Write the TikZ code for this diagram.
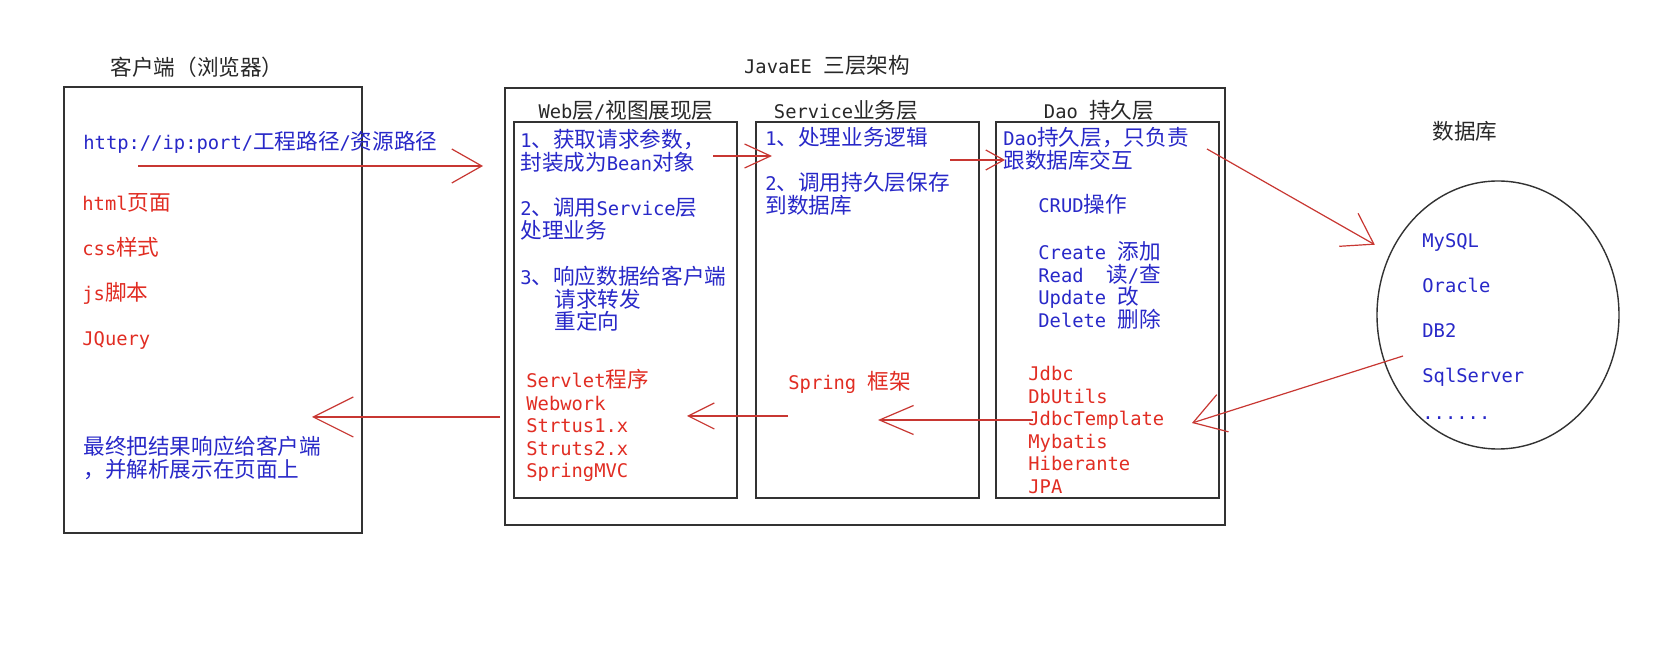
\documentclass[tikz,border=0pt]{standalone}
\usepackage{fontspec}
\setmainfont{DejaVu Sans Mono}
\newfontfamily\latinfont{DejaVu Sans Mono}
\newfontfamily\cjkfont{Noto Sans CJK SC}[Scale=1.15]

% switch to the CJK font for Chinese characters
\newXeTeXintercharclass\cjkclass
\newcount\charcode
\def\setclassrange#1#2#3{\charcode=#1\relax
  \loop \XeTeXcharclass\charcode=#3\relax
  \ifnum\charcode<#2\relax \advance\charcode by 1 \repeat}
\setclassrange{"0020}{"007E}{0}
\setclassrange{"3000}{"303F}{\cjkclass}
\setclassrange{"4E00}{"9FFF}{\cjkclass}
\setclassrange{"FF00}{"FFEF}{\cjkclass}
\XeTeXinterchartokenstate=1
\XeTeXinterchartoks 0 \cjkclass = {\cjkfont}
\XeTeXinterchartoks 4095 \cjkclass = {\cjkfont}
\XeTeXinterchartoks \cjkclass 0 = {\latinfont}
\XeTeXinterchartoks \cjkclass 4095 = {\latinfont}

\usepackage{tikz}
\usetikzlibrary{positioning, arrows.meta, shapes.geometric}

\definecolor{textblue}{RGB}{40,40,200}
\definecolor{textred}{RGB}{225,45,35}
\definecolor{arrowred}{RGB}{200,55,50}
\definecolor{framegray}{RGB}{50,50,50}
\definecolor{titlegray}{RGB}{40,40,40}

% text nodes sit on the baseline of their last line
\tikzset{
  frame/.style={draw=framegray, line width=1pt, inner sep=0pt, outer sep=0pt},
  title/.style={text=titlegray, inner sep=0pt, font=\fontsize{9.4pt}{11.25pt}\selectfont},
  txt/.style={inner sep=0pt, anchor=base west, align=left, font=\fontsize{9.4pt}{11.25pt}\selectfont},
  widetxt/.style={txt, font=\fontsize{9.4pt}{22.5pt}\selectfont},
  bluetxt/.style={txt, text=textblue},
  redtxt/.style={txt, text=textred},
  flow/.style 2 args={draw=arrowred, line width=0.6pt, -{Straight Barb[length=#1, width=#2]}},
}

\begin{document}
\begin{tikzpicture}[x=0.5pt, y=-0.5pt]
    \fill[white] (0,0) rectangle (1677,651);
    \useasboundingbox (0,0) rectangle (1677,651);

    % Boxes
    \node[frame, minimum width=149pt, minimum height=223pt] (client) at (213,310) {};
    \node[frame, minimum width=360pt, minimum height=218.5pt] (javaee) at (865,306.5) {};
    \node[frame, minimum width=111.5pt, minimum height=188pt] (web) at (625.5,310) {};
    \node[frame, minimum width=111.5pt, minimum height=188pt] (service) at (867.5,310) {};
    \node[frame, minimum width=111.5pt, minimum height=188pt] (dao) at (1107.5,310) {};
    \node[frame, ellipse, line width=0.7pt, minimum width=121pt, minimum height=134pt] (db) at (1498,315) {};

    % Titles
    \node[title] (clientTitle) at (197,67) {客户端（浏览器）};
    \node[title] (javaeeTitle) at (827,65) {JavaEE 三层架构};
    \node[title] (webTitle) at (626,110) {Web层/视图展现层};
    \node[title] (serviceTitle) at (846,110) {Service业务层};
    \node[title] (daoTitle) at (1099,110) {Dao 持久层};
    \node[title] (dbTitle) at (1465,131) {数据库};

    % Client
    \node[bluetxt] (url) at (83,150) {http://ip:port/工程路径/资源路径};
    \node[redtxt, widetxt] (pages) at (82,346) {html页面\\css样式\\js脚本\\JQuery};
    \node[bluetxt] (result) at (83,477.5) {最终把结果响应给客户端\\，并解析展示在页面上};

    % Web layer
    \node[bluetxt] (webStep1) at (520,170.5) {1、获取请求参数，\\封装成为Bean对象};
    \node[bluetxt] (webStep2) at (520,238.5) {2、调用Service层\\处理业务};
    \node[bluetxt] (webStep3) at (520,330) {3、响应数据给客户端\\\hspace{17pt}请求转发\\\hspace{17pt}重定向};
    \node[redtxt] (webTools) at (526,478) {Servlet程序\\Webwork\\Strtus1.x\\Struts2.x\\SpringMVC};

    % Service layer
    \node[bluetxt] (svcStep1) at (765,146) {1、处理业务逻辑};
    \node[bluetxt] (svcStep2) at (765,213.5) {2、调用持久层保存\\到数据库};
    \node[redtxt] (spring) at (788,390) {Spring 框架};

    % Dao layer
    \node[bluetxt] (daoIntro) at (1003,168.5) {Dao持久层，只负责\\跟数据库交互};
    \node[bluetxt] (crud) at (1038,213) {CRUD操作};
    \node[bluetxt] (crudOps) at (1038,327.5) {Create 添加\\Read\ \ 读/查\\Update 改\\Delete 删除};
    \node[redtxt] (daoTools) at (1028,493.5) {Jdbc\\DbUtils\\JdbcTemplate\\Mybatis\\Hiberante\\JPA};

    % Database
    \node[bluetxt, widetxt] (dbList) at (1422,420) {MySQL\\Oracle\\DB2\\SqlServer\\[-4pt]......};

    % Arrow ends
    \coordinate (reqFrom) at (138,166);
    \coordinate (reqTo) at (483,166);
    \coordinate (webOut) at (713,156);
    \coordinate (svcIn) at (772,156);
    \coordinate (svcOut) at (950,160);
    \coordinate (daoIn) at (1005,160);
    \coordinate (daoOut) at (1207,149);
    \coordinate (dbOut) at (1403,356);
    \coordinate (daoBack) at (1192,423);
    \coordinate (daoRet) at (1033,420);
    \coordinate (svcBack) at (878,420);
    \coordinate (svcRet) at (788,416);
    \coordinate (webBack) at (687,416);
    \coordinate (webRet) at (500,417);
    \coordinate (clientBack) at (312,417);

    % Arrows
    \draw[flow={15pt}{17pt}] (reqFrom) -- (reqTo);
    \draw[flow={13pt}{12pt}] (webOut) -- (svcIn);
    \draw[flow={9pt}{10pt}] (svcOut) -- (daoIn);
    \draw[flow={14.5pt}{19pt}, shorten >=9pt] (daoOut) -- (db);
    \draw[flow={15.5pt}{19.5pt}] (dbOut) -- (daoBack);
    \draw[flow={17pt}{14.5pt}] (daoRet) -- (svcBack);
    \draw[flow={13pt}{13pt}] (svcRet) -- (webBack);
    \draw[flow={20pt}{20pt}] (webRet) -- (clientBack);

\end{tikzpicture}
\end{document}
